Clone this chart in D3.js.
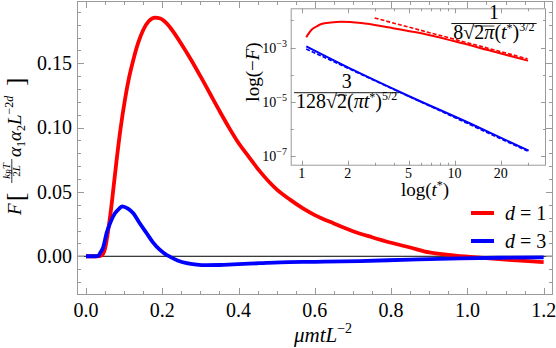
<!DOCTYPE html>
<html><head><meta charset="utf-8">
<script src="https://cdn.jsdelivr.net/npm/d3@7/dist/d3.min.js"></script>
<style>
body{margin:0;background:#fff}
svg{display:block}
text{font-family:"Liberation Serif","Times New Roman",serif;fill:#000}
</style>
</head><body>
<svg id="c" width="556" height="348"></svg>
<script>
// ---------------- data ----------------
// main plot, d = 1
const redX = [0,0.03,0.038,0.045,0.05,0.055,0.06,0.065,0.072,0.08,0.09,0.102,0.113,0.124,0.137,0.15,0.165,0.181,0.195,0.2115,0.23,0.25,0.275,0.3,0.325,0.35,0.375,0.4,0.425,0.456,0.5,0.535,0.57,0.6,0.65,0.7,0.75,0.8,0.85,0.9,0.95,1.0,1.05,1.1,1.15,1.2];
const redF = [0,0,0.0003,0.002,0.006,0.014,0.024,0.035,0.053,0.074,0.098,0.1215,0.139,0.1526,0.166,0.1759,0.1828,0.1855,0.1848,0.181,0.174,0.165,0.153,0.14,0.1265,0.113,0.1,0.088,0.078,0.066,0.052,0.044,0.037,0.032,0.0255,0.0195,0.0148,0.0105,0.0068,0.003,0.0011,-0.0003,-0.0015,-0.0026,-0.0036,-0.0045];
// main plot, d = 3
const blueX = [0,0.025,0.032,0.038,0.045,0.054,0.065,0.076,0.087,0.095,0.11,0.124,0.14,0.159,0.175,0.194,0.21,0.22,0.24,0.264,0.29,0.316,0.35,0.386,0.456,0.509,0.6,0.718,0.85,0.98,1.1,1.2];
const blueF = [0,0,0.0003,0.003,0.007,0.018,0.027,0.0334,0.037,0.0388,0.037,0.0334,0.026,0.0179,0.011,0.0049,0.0013,-0.0003,-0.0032,-0.0054,-0.0065,-0.0069,-0.0068,-0.0063,-0.0054,-0.0047,-0.0043,-0.0037,-0.0026,-0.0016,-0.0011,-0.0008];
const xTickLabels = ["0.0","0.2","0.4","0.6","0.8","1.0","1.2"];
const yTickLabels = ["0.00","0.05","0.10","0.15"];
const legendLabels = ["1","3"];
// inset (log-log)
const insRedT = [1.07,1.156,1.25,1.343,1.55,1.815,2.45,3.67,6.06,10,16.5,30.2];
const insRedF = [2.37e-3,4.39e-3,5.9e-3,7.28e-3,8.32e-3,8.85e-3,7.93e-3,5.51e-3,3.32e-3,1.69e-3,8.09e-4,3.28e-4];
const insRedAsT = [3,5,10,20,30];
const insRedAsF = [1.21e-2,5.62e-3,2.0e-3,7.08e-4,3.83e-4];
const insBlueT = [1.07,2.22,4.96,12.86,30.5];
const insBlueF = [1.107e-3,1.41e-4,1.70e-5,1.56e-6,1.63e-7];
const insBlueAsT = [1.07,2,5,10,20,30];
const insBlueAsF = [8.81e-4,1.74e-4,1.62e-5,2.69e-6,4.47e-7,1.58e-7];
const insXTicks = [1,2,5,10,20];
const insXMinor = [3,4,6,7,8,9,30];
const insYExp = [-2,-3,-4,-5,-6,-7];
const insYLabelExp = [-3,-5,-7];

// ---------------- drawing ----------------
const svg = d3.select("#c");
const RED = "#ff0000", BLUE = "#0000ff", FRAME = "#9a9a9a";
const L = 77, R = 553, T = 1, B = 295;
const x = d3.scaleLinear().domain([-0.0236, 1.2245]).range([L, R]);
const y = d3.scaleLinear().domain([-0.0301, 0.1984]).range([B, T]);

svg.append("defs").append("clipPath").attr("id","mc")
  .append("rect").attr("x",L).attr("y",T).attr("width",R-L).attr("height",B-T);

// zero axis
svg.append("line").attr("x1",L).attr("x2",R).attr("y1",y(0)).attr("y2",y(0))
  .attr("stroke","#000").attr("stroke-width",1);

// curves
const line = d3.line().curve(d3.curveMonotoneX);
const gc = svg.append("g").attr("clip-path","url(#mc)");
gc.append("path").attr("d", line(redX.map((v,i)=>[x(v), y(redF[i])])))
  .attr("fill","none").attr("stroke",RED).attr("stroke-width",3.8).attr("stroke-linejoin","round");
gc.append("path").attr("d", line(blueX.map((v,i)=>[x(v), y(blueF[i])])))
  .attr("fill","none").attr("stroke",BLUE).attr("stroke-width",3.8).attr("stroke-linejoin","round");

// frame + ticks
const gf = svg.append("g").attr("stroke",FRAME).attr("stroke-width",1);
gf.append("rect").attr("x",L+0.5).attr("y",T+0.5).attr("width",R-L-1).attr("height",B-T-1).attr("fill","none");
for (let i = 0; i <= 24; i++) {
  const v = i*0.05, major = i%4===0, len = major?7:4, px = Math.round(x(v))+0.5;
  gf.append("line").attr("x1",px).attr("x2",px).attr("y1",B).attr("y2",B-len);
  gf.append("line").attr("x1",px).attr("x2",px).attr("y1",T).attr("y2",T+len);
}
for (let i = -2; i <= 19; i++) {
  const v = i*0.01, major = i%5===0, len = major?7:4, py = Math.round(y(v))+0.5;
  gf.append("line").attr("y1",py).attr("y2",py).attr("x1",L).attr("x2",L+len);
  gf.append("line").attr("y1",py).attr("y2",py).attr("x1",R).attr("x2",R-len);
}
xTickLabels.forEach(s => {
  svg.append("text").attr("x",x(+s)).attr("y",316.5).attr("text-anchor","middle")
    .attr("font-size",20).text(s);
});
yTickLabels.forEach(s => {
  svg.append("text").attr("x",72).attr("y",y(+s)+6.8).attr("text-anchor","end")
    .attr("font-size",20).text(s);
});

// x title
const xt = svg.append("text").attr("x",323).attr("y",342).attr("text-anchor","middle").attr("font-size",21);
xt.append("tspan").attr("font-style","italic").text("μmtL");
xt.append("tspan").attr("font-size",14).attr("dy",-9).text("−2");

// y title
const gy = svg.append("g").attr("transform","translate(21,215) rotate(-90)");
gy.append("text").attr("x",0).attr("y",0).attr("font-size",19).attr("font-style","italic").text("F");
gy.append("text").attr("x",14).attr("y",3).attr("font-size",25).text("[");
const num = gy.append("text").attr("x",44).attr("y",-11).attr("text-anchor","middle").attr("font-size",11).attr("font-style","italic");
num.append("tspan").text("k");
num.append("tspan").attr("font-size",7.5).attr("dy",2).text("B");
num.append("tspan").attr("dy",-2).text("T");
gy.append("line").attr("x1",32).attr("x2",56).attr("y1",-9.2).attr("y2",-9.2).attr("stroke","#000").attr("stroke-width",0.8);
const den = gy.append("text").attr("x",44).attr("y",-1).attr("text-anchor","middle").attr("font-size",11);
den.append("tspan").text("2");
den.append("tspan").attr("font-style","italic").text("L");
const rest = gy.append("text").attr("x",58).attr("y",0).attr("font-size",19);
rest.append("tspan").attr("font-style","italic").text("α");
rest.append("tspan").attr("font-size",12).attr("dy",4).text("1");
rest.append("tspan").attr("font-style","italic").attr("dy",-4).text("α");
rest.append("tspan").attr("font-size",12).attr("dy",4).text("2");
rest.append("tspan").attr("font-style","italic").attr("dy",-4).text("L");
rest.append("tspan").attr("font-size",12).attr("dy",-8).text("−2");
rest.append("tspan").attr("font-size",12).attr("font-style","italic").text("d");
gy.append("text").attr("x",129).attr("y",3).attr("font-size",25).text("]");

// legend
[[RED,213],[BLUE,241]].forEach((c,i) => {
  svg.append("line").attr("x1",471).attr("x2",494).attr("y1",c[1]).attr("y2",c[1])
    .attr("stroke",c[0]).attr("stroke-width",4);
  const t = svg.append("text").attr("x",505).attr("y",c[1]+6.5).attr("font-size",20);
  t.append("tspan").attr("font-style","italic").text("d");
  t.append("tspan").text(" = " + legendLabels[i]);
});

// ---------------- inset ----------------
const iL = 290.7, iR = 546, iT = 8.3, iB = 165.7;
const xi = d3.scaleLog().domain([0.847, 39.6]).range([iL, iR]);
const yi = d3.scaleLog().domain([Math.pow(10,-7.338), Math.pow(10,-1.561)]).range([iB, iT]);
svg.append("rect").attr("x",iL).attr("y",iT).attr("width",iR-iL).attr("height",iB-iT).attr("fill","#fff");
svg.select("defs").append("clipPath").attr("id","ic")
  .append("rect").attr("x",iL).attr("y",iT).attr("width",iR-iL).attr("height",iB-iT);
const gi = svg.append("g").attr("clip-path","url(#ic)");
const lineL = d3.line();
const dl = (T_,F_) => T_.map((t,i)=>[xi(t), yi(F_[i])]);
gi.append("path").attr("d", d3.line().curve(d3.curveMonotoneX)(dl(insRedT,insRedF)))
  .attr("fill","none").attr("stroke",RED).attr("stroke-width",2);
gi.append("path").attr("d", lineL(dl(insRedAsT,insRedAsF)))
  .attr("fill","none").attr("stroke",RED).attr("stroke-width",1.6).attr("stroke-dasharray","4,2");
gi.append("path").attr("d", d3.line().curve(d3.curveMonotoneX)(dl(insBlueT,insBlueF)))
  .attr("fill","none").attr("stroke",BLUE).attr("stroke-width",2);
gi.append("path").attr("d", lineL(dl(insBlueAsT,insBlueAsF)))
  .attr("fill","none").attr("stroke",BLUE).attr("stroke-width",1.6).attr("stroke-dasharray","4,2");

const gif = svg.append("g").attr("stroke",FRAME).attr("stroke-width",1);
gif.append("rect").attr("x",iL+0.5).attr("y",iT+0.5).attr("width",iR-iL-1).attr("height",iB-iT-1).attr("fill","none");
insXTicks.concat(insXMinor).forEach(t => {
  const len = insXTicks.includes(t)?5:3, px = Math.round(xi(t))+0.5;
  gif.append("line").attr("x1",px).attr("x2",px).attr("y1",iB).attr("y2",iB-len);
  gif.append("line").attr("x1",px).attr("x2",px).attr("y1",iT).attr("y2",iT+len);
});
insYExp.forEach(e => {
  const len = insYLabelExp.includes(e)?5:3, py = Math.round(yi(Math.pow(10,e)))+0.5;
  gif.append("line").attr("y1",py).attr("y2",py).attr("x1",iL).attr("x2",iL+len);
  gif.append("line").attr("y1",py).attr("y2",py).attr("x1",iR).attr("x2",iR-len);
});
insXTicks.forEach(t => {
  svg.append("text").attr("x",xi(t)).attr("y",177.5).attr("text-anchor","middle").attr("font-size",14).text(t);
});
insYLabelExp.forEach(e => {
  const tt = svg.append("text").attr("x",287).attr("y",yi(Math.pow(10,e))+5).attr("text-anchor","end").attr("font-size",14);
  tt.append("tspan").text("10");
  tt.append("tspan").attr("font-size",10).attr("dy",-6).text("−" + Math.abs(e));
});
// inset axis labels
const lt = svg.append("text").attr("x",425).attr("y",195.5).attr("text-anchor","middle").attr("font-size",19);
lt.append("tspan").text("log(");
lt.append("tspan").attr("font-style","italic").text("t");
lt.append("tspan").attr("font-size",12).attr("dy",-7).text("*");
lt.append("tspan").attr("dy",7).text(")");
const lf = svg.append("text").attr("transform","translate(259,72) rotate(-90)").attr("text-anchor","middle").attr("font-size",19);
lf.append("tspan").text("log(−");
lf.append("tspan").attr("font-style","italic").text("F");
lf.append("tspan").text(")");

// inset formulas
function fraction(cx, barY, numStr, build, fs) {
  svg.append("text").attr("x",cx).attr("y",barY-4.5).attr("text-anchor","middle").attr("font-size",fs).text(numStr);
  const d = svg.append("text").attr("x",cx).attr("y",barY+15).attr("text-anchor","middle").attr("font-size",fs);
  const sq = build(d);
  const w = d.node().getComputedTextLength();
  svg.append("line").attr("x1",cx-w/2-2).attr("x2",cx+w/2+2).attr("y1",barY).attr("y2",barY)
    .attr("stroke","#000").attr("stroke-width",0.9);
  // overline for sqrt
  const n = sq.node();
  const x0 = n.getStartPositionOfChar(0).x, x1 = x0 + n.getComputedTextLength();
  svg.append("line").attr("x1",x0-1).attr("x2",x1).attr("y1",barY+2.5).attr("y2",barY+2.5)
    .attr("stroke","#000").attr("stroke-width",0.8);
}
fraction(494, 23.5, "1", d => {
  d.append("tspan").text("8√");
  const s = d.append("tspan").text("2");
  s.append("tspan").attr("font-style","italic").text("π");
  d.append("tspan").text("(");
  d.append("tspan").attr("font-style","italic").text("t");
  d.append("tspan").attr("font-size",12).attr("dy",-7).text("*");
  d.append("tspan").attr("dy",7).text(")");
  d.append("tspan").attr("font-size",12).attr("dy",-8).text("3/2");
  return s;
}, 20);
fraction(346.7, 92.7, "3", d => {
  d.append("tspan").text("128√");
  const s = d.append("tspan").text("2");
  d.append("tspan").text("(");
  d.append("tspan").attr("font-style","italic").text("πt");
  d.append("tspan").attr("font-size",12).attr("dy",-7).text("*");
  d.append("tspan").attr("dy",7).text(")");
  d.append("tspan").attr("font-size",12).attr("dy",-8).text("5/2");
  return s;
}, 20);
</script>
</body></html>
